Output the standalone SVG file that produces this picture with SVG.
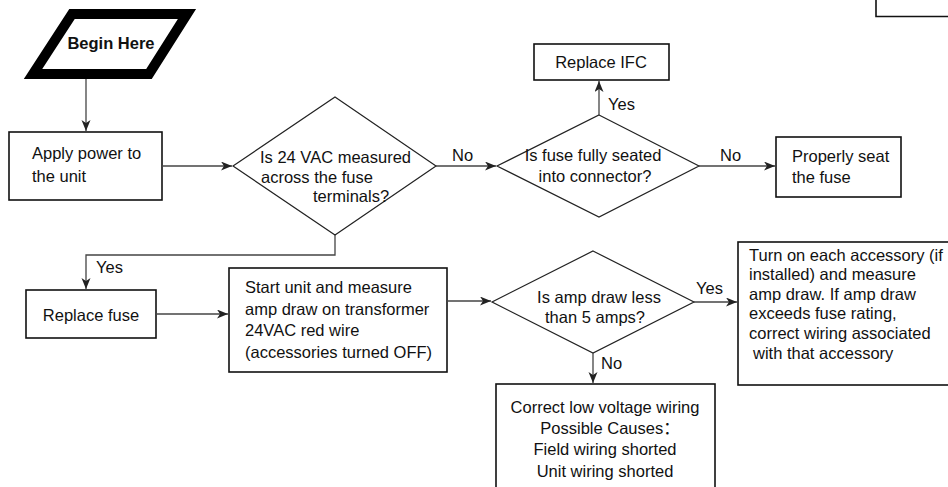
<svg xmlns="http://www.w3.org/2000/svg" width="948" height="487" viewBox="0 0 948 487">
<defs>
<marker id="arr" markerUnits="userSpaceOnUse" markerWidth="12" markerHeight="10" refX="11" refY="4.5" orient="auto">
<path d="M0,0 L11,4.5 L0,9 L3,4.5 Z" fill="#222"/>
</marker>
</defs>
<style>
.box{fill:#fff;stroke:#111;stroke-width:1.6}
.dia{fill:#fff;stroke:#222;stroke-width:1.2}
.t{font-family:"Liberation Sans",Arial,"Noto Sans CJK SC",sans-serif;font-size:16.5px;fill:#111}
.c{text-anchor:middle}
.ln{fill:none;stroke:#444;stroke-width:1.3}
</style>
<rect width="948" height="487" fill="#fff"/>

<g id="corner">
<path d="M876 -2 V16.5 H950" fill="none" stroke="#111" stroke-width="1.6"/>
</g>

<g id="begin">
<polygon points="72,14 187,14 149,74 33,74" fill="#fff" stroke="#000" stroke-width="10" stroke-linejoin="miter"/>
<text class="t c" x="111" y="49" style="font-weight:bold;font-size:16.5px">Begin Here</text>
</g>

<g id="apply">
<rect class="box" x="9" y="132" width="153" height="68"/>
<text class="t" x="32" y="159">Apply power to</text>
<text class="t" x="32" y="182">the unit</text>
</g>

<g id="d1">
<polygon class="dia" points="335,97 436,166 335,235 233,166"/>
<text class="t" x="260" y="163">Is 24 VAC measured</text>
<text class="t" x="261" y="183">across the fuse</text>
<text class="t" x="313" y="202">terminals?</text>
</g>

<g id="d2">
<polygon class="dia" points="599,115 699,166 599,217 497,166"/>
<text class="t c" x="593" y="161">Is fuse fully seated</text>
<text class="t c" x="595" y="182">into connector?</text>
</g>

<g id="ifc">
<rect class="box" x="534" y="44" width="135" height="36"/>
<text class="t c" x="601" y="68">Replace IFC</text>
</g>

<g id="seat">
<rect class="box" x="776" y="137" width="125" height="60"/>
<text class="t" x="792" y="162">Properly seat</text>
<text class="t" x="792" y="183">the fuse</text>
</g>

<g id="fuse">
<rect class="box" x="26" y="290" width="130" height="48"/>
<text class="t c" x="91" y="321">Replace fuse</text>
</g>

<g id="start">
<rect class="box" x="229" y="268" width="218" height="104"/>
<text class="t" x="245" y="293">Start unit and measure</text>
<text class="t" x="245" y="315">amp draw on transformer</text>
<text class="t" x="245" y="336">24VAC red wire</text>
<text class="t" x="245" y="358">(accessories turned OFF)</text>
</g>

<g id="d3">
<polygon class="dia" points="593,251 694,302 593,353 492,302"/>
<text class="t c" x="599" y="303">Is amp draw less</text>
<text class="t c" x="595" y="323">than 5 amps?</text>
</g>

<g id="accessory">
<rect class="box" x="738" y="242" width="220" height="143"/>
<text class="t" x="749" y="261">Turn on each accessory (if</text>
<text class="t" x="749" y="280">installed) and measure</text>
<text class="t" x="749" y="300">amp draw. If amp draw</text>
<text class="t" x="749" y="319">exceeds fuse rating,</text>
<text class="t" x="749" y="339">correct wiring associated</text>
<text class="t" x="753" y="359">with that accessory</text>
</g>

<g id="lowvolt">
<rect class="box" x="496" y="384" width="219" height="120"/>
<text class="t c" x="605" y="413">Correct low voltage wiring</text>
<text class="t c" x="610" y="434">Possible Causes：</text>
<text class="t c" x="605" y="455">Field wiring shorted</text>
<text class="t c" x="605" y="477">Unit wiring shorted</text>
</g>

<g id="connectors">
<path class="ln" d="M86 79 V131" marker-end="url(#arr)"/>
<path class="ln" d="M162 166 H232" marker-end="url(#arr)"/>
<path class="ln" d="M436 166 H496" marker-end="url(#arr)"/>
<path class="ln" d="M599 115 V81" marker-end="url(#arr)"/>
<path class="ln" d="M699 166 H775" marker-end="url(#arr)"/>
<path class="ln" d="M335 235 V255 H86 V289" marker-end="url(#arr)"/>
<path class="ln" d="M156 314 H228" marker-end="url(#arr)"/>
<path class="ln" d="M447 301 H491" marker-end="url(#arr)"/>
<path class="ln" d="M694 302 H737" marker-end="url(#arr)"/>
<path class="ln" d="M593 353 V383" marker-end="url(#arr)"/>
<text class="t" x="452" y="161">No</text>
<text class="t" x="608" y="110">Yes</text>
<text class="t" x="720" y="161">No</text>
<text class="t" x="96" y="273">Yes</text>
<text class="t" x="696" y="294">Yes</text>
<text class="t" x="601" y="369">No</text>
</g>
</svg>
